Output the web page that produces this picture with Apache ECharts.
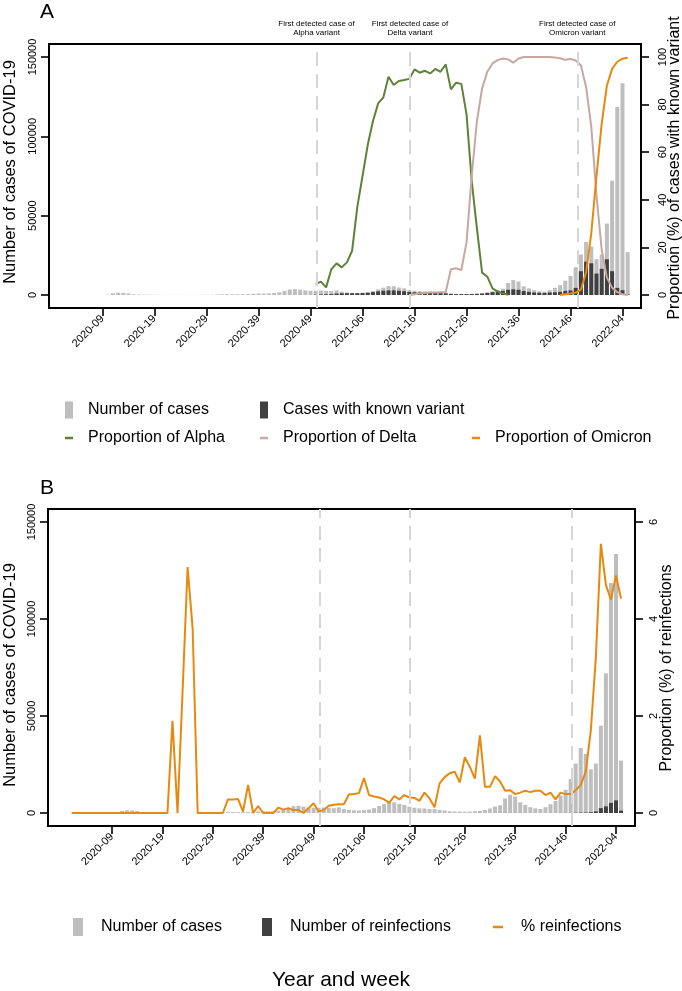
<!DOCTYPE html>
<html><head><meta charset="utf-8">
<script src="https://cdn.jsdelivr.net/npm/echarts@6/dist/echarts.min.js"></script>
<style>html,body{margin:0;padding:0;background:#fff;}#c{width:682px;height:991px;}</style>
</head><body><div id="c"></div>
<script>
const weeks = [
'2020-01','2020-02','2020-03','2020-04','2020-05','2020-06','2020-07','2020-08','2020-09','2020-10',
'2020-11','2020-12','2020-13','2020-14','2020-15','2020-16','2020-17','2020-18','2020-19','2020-20',
'2020-21','2020-22','2020-23','2020-24','2020-25','2020-26','2020-27','2020-28','2020-29','2020-30',
'2020-31','2020-32','2020-33','2020-34','2020-35','2020-36','2020-37','2020-38','2020-39','2020-40',
'2020-41','2020-42','2020-43','2020-44','2020-45','2020-46','2020-47','2020-48','2020-49','2020-50',
'2020-51','2020-52','2020-53','2021-01','2021-02','2021-03','2021-04','2021-05','2021-06','2021-07',
'2021-08','2021-09','2021-10','2021-11','2021-12','2021-13','2021-14','2021-15','2021-16','2021-17',
'2021-18','2021-19','2021-20','2021-21','2021-22','2021-23','2021-24','2021-25','2021-26','2021-27',
'2021-28','2021-29','2021-30','2021-31','2021-32','2021-33','2021-34','2021-35','2021-36','2021-37',
'2021-38','2021-39','2021-40','2021-41','2021-42','2021-43','2021-44','2021-45','2021-46','2021-47',
'2021-48','2021-49','2021-50','2021-51','2021-52','2022-01','2022-02','2022-03','2022-04','2022-05'];
const tickWeeks = ['2020-09','2020-19','2020-29','2020-39','2020-49','2021-06','2021-16','2021-26','2021-36','2021-46','2022-04'];

const cases = [
0,0,0,0,0,0,0,0,30,200,
1100,1400,1300,1000,450,350,250,180,120,100,
80,70,60,60,60,70,80,100,120,180,
300,450,500,450,400,500,650,800,900,900,
1000,1200,1700,2600,3500,3700,3300,2900,2700,2700,
2800,2600,2500,2900,2100,1600,1400,1300,1500,1800,
2500,3600,4600,5600,5500,4700,4200,3200,2700,2400,
2300,2100,2000,1600,1300,900,700,700,700,750,
900,1100,1600,2300,3300,4000,7500,9400,8500,5500,
4200,3000,2400,2100,3000,4500,6200,9000,12000,17500,
25500,33500,30500,22500,25500,45000,72000,118500,133500,27000];

const knownVariant = [
null,null,null,null,null,null,null,null,null,null,
null,null,null,null,null,null,null,null,null,null,
null,null,null,null,null,null,null,null,null,null,
null,null,null,null,null,null,null,null,null,null,
null,null,null,null,null,null,null,null,null,250,
350,450,600,900,1100,1100,1100,1100,1200,1400,
1800,2300,2700,2900,2900,2700,2400,1900,1700,1600,
1600,1500,1500,1200,1000,700,550,550,550,600,
700,900,1300,1800,2400,2600,3300,3600,3300,2500,
2000,1600,1400,1300,1600,1700,2000,2600,2900,4500,
15000,21000,20000,13500,16500,22500,15000,4500,3000,300];

const propAlpha = [
null,null,null,null,null,null,null,null,null,null,
null,null,null,null,null,null,null,null,null,null,
null,null,null,null,null,null,null,null,null,null,
null,null,null,null,null,null,null,null,null,null,
null,null,null,null,null,null,null,null,null,4.6,
5.6,3.2,10.8,13.3,11.6,13.7,18.6,37,50,63,
73,80.5,83,91.7,88.2,89.9,90.3,90.8,94.8,93.4,
94.2,93.1,95,93.8,96.9,86.4,89.2,88.7,76,48,
28,9.4,7.7,2.8,1.4,0.7,0.1,null,null,null,
null,null,null,null,null,null,null,null,null,null,
null,null,null,null,null,null,null,null,null,null];

const propDelta = [
null,null,null,null,null,null,null,null,null,null,
null,null,null,null,null,null,null,null,null,null,
null,null,null,null,null,null,null,null,null,null,
null,null,null,null,null,null,null,null,null,null,
null,null,null,null,null,null,null,null,null,null,
null,null,null,null,null,null,null,null,null,null,
null,null,null,null,null,null,null,0,0.3,0.6,
0.8,1.0,1.1,1.2,1.3,10.8,11.2,10.5,22,50,
73,86.8,93.8,97.3,98.7,99.4,99,97.6,99.4,100,
100,100,100,100,100,99.8,99.5,98.8,99.2,98.5,
96.5,87.4,70.6,42,19,7.3,3.1,1.2,0.3,0];

const propOmicron = [
null,null,null,null,null,null,null,null,null,null,
null,null,null,null,null,null,null,null,null,null,
null,null,null,null,null,null,null,null,null,null,
null,null,null,null,null,null,null,null,null,null,
null,null,null,null,null,null,null,null,null,null,
null,null,null,null,null,null,null,null,null,null,
null,null,null,null,null,null,null,null,null,null,
null,null,null,null,null,null,null,null,null,null,
null,null,null,null,null,null,null,null,null,null,
null,null,null,null,null,null,0,0.3,0.6,1.0,
2.3,9.5,26,50,72,88,95,98,99.3,99.7];

const reinfections = [
0,0,0,0,0,0,0,0,0,0,
0,0,0,0,0,0,0,0,0,0,
1,0,2,3,2,0,0,0,0,0,
0,1,1,1,0,3,0,1,0,0,
0,1,1,3,2,2,0,3,5,1,
2,4,4,5,4,6,5,5,11,7,
8,12,13,12,19,13,16,10,8,6,
10,6,2,10,10,7,6,4,8,7,
6,18,9,12,25,26,35,44,33,23,
19,13,11,10,11,21,18,40,47,68,
120,195,250,380,820,2500,3400,5200,6500,1200];

const pctReinfections = [
0,0,0,0,0,0,0,0,0,0,
0,0,0,0,0,0,0,0,0,0,
1.9,0,2.5,5.07,3.8,0,0,0,0,0,
0,0.28,0.28,0.29,0.03,0.58,0,0.14,0,0,
0,0.11,0.07,0.1,0.06,0.06,0,0.1,0.2,0.03,
0.06,0.15,0.17,0.18,0.18,0.38,0.39,0.41,0.72,0.37,
0.34,0.32,0.28,0.21,0.35,0.28,0.37,0.32,0.31,0.25,
0.42,0.30,0.12,0.61,0.74,0.82,0.85,0.63,1.15,0.95,
0.71,1.6,0.54,0.54,0.76,0.65,0.46,0.47,0.39,0.42,
0.46,0.43,0.46,0.46,0.37,0.42,0.28,0.42,0.39,0.39,
0.47,0.58,0.85,1.7,3.2,5.55,4.7,4.4,4.9,4.42];

// first detection of each variant (position on the week axis)
const variantNames = ['Alpha', 'Delta', 'Omicron'];
const variantFirstDetected = [49.15, 67.13, 99.3];
const firstWeekPanelA = '2020-09';

const casesTicks = [0, 50000, 100000, 150000];
const propTicks = [0, 20, 40, 60, 80, 100];
const reinfTicks = [0, 2, 4, 6];

const tickIdx = tickWeeks.map(w => weeks.indexOf(w));
const startA = weeks.indexOf(firstWeekPanelA);
const pairs = (arr, from) => arr.map((v, i) => (i < from || v == null) ? null : [i, v]).filter(Boolean);

const FONT = 'Liberation Sans, Arial, Helvetica, sans-serif';
const GRAY = '#BEBEBE', DARK = '#404040';
const C_ALPHA = '#5E8236', C_DELTA = '#C8A6A1', C_OMI = '#E8890F';
const TICK = '#000';

const axisLineStyle = {show: true, onZero: false, lineStyle: {color: '#000', width: 2}};
const xAxisCommon = (gi, min, max) => ({
  type: 'value', gridIndex: gi, min: min, max: max, position: 'bottom',
  splitLine: {show: false}, axisLine: axisLineStyle,
  axisTick: {show: true, inside: false, customValues: tickIdx, length: 8, lineStyle: {color: TICK, width: 1.6}},
  axisLabel: {customValues: tickIdx, rotate: 45, margin: 9, fontSize: 11, color: '#000', fontFamily: FONT,
    formatter: v => weeks[Math.round(v)]}
});
const yAxisCommon = (gi, pos, min, max, ticks, margin) => ({
  type: 'value', gridIndex: gi, position: pos, min: min, max: max,
  splitLine: {show: false}, axisLine: axisLineStyle,
  axisTick: {show: true, inside: false, customValues: ticks, length: 8, lineStyle: {color: TICK, width: 1.6}},
  axisLabel: {customValues: ticks, rotate: 90, margin: margin, fontSize: 11, color: '#000', fontFamily: FONT,
    formatter: v => String(v)}
});

const dashed = (withLabels) => ({
  silent: true, symbol: ['none', 'none'], animation: false,
  lineStyle: {color: '#D6D6D6', width: 2, type: [14, 8]},
  label: withLabels ? {show: true, position: 'end', formatter: '{b}', fontSize: 8, lineHeight: 8.5,
    color: '#000', fontFamily: FONT, distance: 7} : {show: false},
  emphasis: {disabled: true},
  data: variantFirstDetected.map((x, i) => ({xAxis: x, name: 'First detected case of\n' + variantNames[i] + ' variant'}))
});

const legendItem = (name, left, top, w, h, pad) => ({
  left: left, top: top, data: [name], icon: 'rect', itemWidth: w, itemHeight: h, selectedMode: false,
  padding: 0, textStyle: {fontSize: 16, color: '#000', fontFamily: FONT, padding: [0, 0, 0, pad], lineHeight: 18}
});

const chart = echarts.init(document.getElementById('c'), null, {renderer: 'canvas'});
chart.setOption({
  animation: false,
  backgroundColor: '#fff',
  grid: [
    {left: 49, top: 44, width: 592, height: 264, show: true, borderColor: '#000', borderWidth: 2,
     backgroundColor: 'rgba(0,0,0,0)', outerBoundsMode: 'none', containLabel: false},
    {left: 48, top: 509, width: 587, height: 317, show: true, borderColor: '#000', borderWidth: 2,
     backgroundColor: 'rgba(0,0,0,0)', outerBoundsMode: 'none', containLabel: false}
  ],
  xAxis: [xAxisCommon(0, -2.3, 111.56), xAxisCommon(1, -4.7, 111.77)],
  yAxis: [
    yAxisCommon(0, 'left', -8193, 158193, casesTicks, 11),
    yAxisCommon(0, 'right', -5.462, 105.462, propTicks, 16),
    yAxisCommon(1, 'left', -6701, 156701, casesTicks, 11),
    yAxisCommon(1, 'right', -0.268, 6.268, reinfTicks, 13)
  ],
  legend: [
    legendItem('Number of cases', 65, 401, 8, 17, 10),
    legendItem('Cases with known variant', 260, 401, 8, 17, 10),
    legendItem('Proportion of Alpha', 65, 429, 8, 2.5, 10),
    legendItem('Proportion of Delta', 260, 429, 8, 2.5, 10),
    legendItem('Proportion of Omicron', 472, 429, 8, 2.5, 10),
    legendItem('Number of cases ', 73, 918, 10, 18, 13),
    legendItem('Number of reinfections', 262, 918, 10, 18, 13),
    legendItem('% reinfections', 493, 918, 10, 2.5, 13)
  ],
  series: [
    {name: 'Number of cases', type: 'bar', xAxisIndex: 0, yAxisIndex: 0, data: pairs(cases, startA),
     barWidth: 4, barGap: '-100%', itemStyle: {color: GRAY}, markLine: dashed(true)},
    {name: 'Cases with known variant', type: 'bar', xAxisIndex: 0, yAxisIndex: 0, data: pairs(knownVariant, 0),
     barWidth: 4, barGap: '-100%', itemStyle: {color: DARK}},
    {name: 'Proportion of Alpha', type: 'line', xAxisIndex: 0, yAxisIndex: 1, data: pairs(propAlpha, 0),
     symbol: 'none', lineStyle: {color: C_ALPHA, width: 2}, itemStyle: {color: C_ALPHA}},
    {name: 'Proportion of Delta', type: 'line', xAxisIndex: 0, yAxisIndex: 1, data: pairs(propDelta, 0),
     symbol: 'none', lineStyle: {color: C_DELTA, width: 2}, itemStyle: {color: C_DELTA}},
    {name: 'Proportion of Omicron', type: 'line', xAxisIndex: 0, yAxisIndex: 1, data: pairs(propOmicron, 0),
     symbol: 'none', lineStyle: {color: C_OMI, width: 2}, itemStyle: {color: C_OMI}},
    {name: 'Number of cases ', type: 'bar', xAxisIndex: 1, yAxisIndex: 2, data: pairs(cases, 0),
     barWidth: 4, barGap: '-100%', itemStyle: {color: GRAY}, markLine: dashed(false)},
    {name: 'Number of reinfections', type: 'bar', xAxisIndex: 1, yAxisIndex: 2, data: pairs(reinfections, 0),
     barWidth: 4, barGap: '-100%', itemStyle: {color: DARK}},
    {name: '% reinfections', type: 'line', xAxisIndex: 1, yAxisIndex: 3, data: pairs(pctReinfections, 0),
     symbol: 'none', lineStyle: {color: C_OMI, width: 2}, itemStyle: {color: C_OMI}}
  ],
  graphic: [
    {type: 'text', x: 40, y: 12, style: {text: 'A', fontSize: 21, fontFamily: FONT, fill: '#000', align: 'left', verticalAlign: 'middle'}},
    {type: 'text', x: 40, y: 488, style: {text: 'B', fontSize: 21, fontFamily: FONT, fill: '#000', align: 'left', verticalAlign: 'middle'}},
    {type: 'text', x: 10, y: 172, rotation: Math.PI / 2, style: {text: 'Number of cases of COVID-19', fontSize: 16.5, fontFamily: FONT, fill: '#000', align: 'center', verticalAlign: 'middle'}},
    {type: 'text', x: 675, y: 168, rotation: Math.PI / 2, style: {text: 'Proportion (%) of cases with known variant', fontSize: 16, fontFamily: FONT, fill: '#000', align: 'center', verticalAlign: 'middle'}},
    {type: 'text', x: 10, y: 675, rotation: Math.PI / 2, style: {text: 'Number of cases of COVID-19', fontSize: 16.5, fontFamily: FONT, fill: '#000', align: 'center', verticalAlign: 'middle'}},
    {type: 'text', x: 667, y: 668, rotation: Math.PI / 2, style: {text: 'Proportion (%) of reinfections', fontSize: 16, fontFamily: FONT, fill: '#000', align: 'center', verticalAlign: 'middle'}},
    {type: 'text', x: 341, y: 980, style: {text: 'Year and week', fontSize: 21, fontFamily: FONT, fill: '#000', align: 'center', verticalAlign: 'middle'}}
  ]
});
</script>
</body></html>
